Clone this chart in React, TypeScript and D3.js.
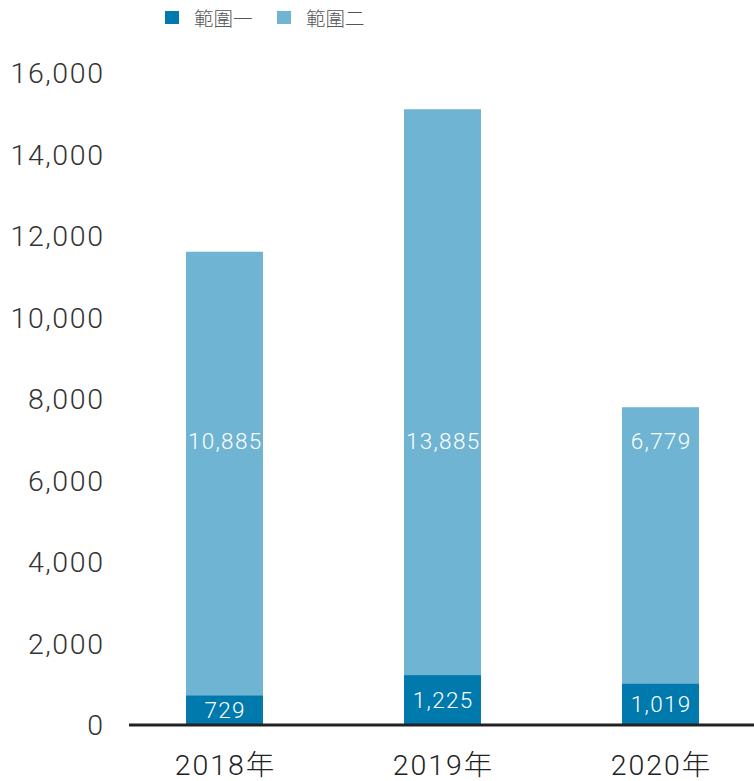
import React from "react";
import * as d3 from "d3";

const categories = ["2018年", "2019年", "2020年"];
const series1 = [729, 1225, 1019];
const series2 = [10885, 13885, 6779];
const seriesNames = ["範圍一", "範圍二"];
const yTicks = [0, 2000, 4000, 6000, 8000, 10000, 12000, 14000, 16000];
const colors = ["#0079AC", "#6FB4D2"];
const upperLabelValue = 6970;

const W = 754;
const H = 781;

export default function App() {
  const y = d3.scaleLinear().domain([0, 16000]).range([725, 73]);
  const x = d3
    .scaleBand<string>()
    .domain(categories)
    .range([115.5, 769.5])
    .paddingInner(0.647)
    .paddingOuter(0.3235);
  const fmt = d3.format(",");
  const font = "Roboto, 'Noto Sans CJK TC', sans-serif";
  const bw = x.bandwidth();

  return (
    <svg
      width={W}
      height={H}
      style={{ position: "absolute", left: 0, top: 0, background: "#fff" }}
      fontFamily={font}
    >
      {/* legend */}
      {seriesNames.map((n, i) => {
        const lx = 165 + i * 112;
        return (
          <g key={n}>
            <rect x={lx} y={11} width={14} height={13} fill={colors[i]} />
            <text x={lx + 29} y={26} fontSize={19.5} fill="#555" fontWeight={300}>
              {n}
            </text>
          </g>
        );
      })}
      {/* y ticks */}
      {yTicks.map((t) => (
        <text
          key={t}
          x={103 + 1.6}
          y={y(t)}
          dy="0.36em"
          textAnchor="end"
          fontSize={28.5}
          fontWeight={300}
          letterSpacing={1.6}
          fill="#333"
        >
          {fmt(t)}
        </text>
      ))}
      {/* bars */}
      {categories.map((c, i) => {
        const x0 = x(c)!;
        const v1 = series1[i];
        const v2 = series2[i];
        return (
          <g key={c}>
            <rect x={x0} y={y(v1 + v2)} width={bw} height={y(v1) - y(v1 + v2)} fill={colors[1]} />
            <rect x={x0} y={y(v1)} width={bw} height={y(0) - y(v1)} fill={colors[0]} />
            <text
              x={x0 + bw / 2 + 0.7}
              y={y(upperLabelValue)}
              dy="0.36em"
              textAnchor="middle"
              fontSize={22.5}
              fontWeight={300}
              letterSpacing={1.3}
              fill="#fff"
            >
              {fmt(v2)}
            </text>
            <text
              x={x0 + bw / 2 + 0.7}
              y={(y(v1) + y(0)) / 2}
              dy="0.36em"
              textAnchor="middle"
              fontSize={22.5}
              fontWeight={300}
              letterSpacing={1.3}
              fill="#fff"
            >
              {fmt(v1)}
            </text>
            <text
              x={x0 + bw / 2 + 1}
              y={765}
              dy="0.36em"
              textAnchor="middle"
              fontSize={28.5}
              fontWeight={300}
              letterSpacing={2}
              fill="#222"
            >
              {c}
            </text>
          </g>
        );
      })}
      <line x1={129} x2={W} y1={y(0)} y2={y(0)} stroke="#222" strokeWidth={3} />
    </svg>
  );
}
